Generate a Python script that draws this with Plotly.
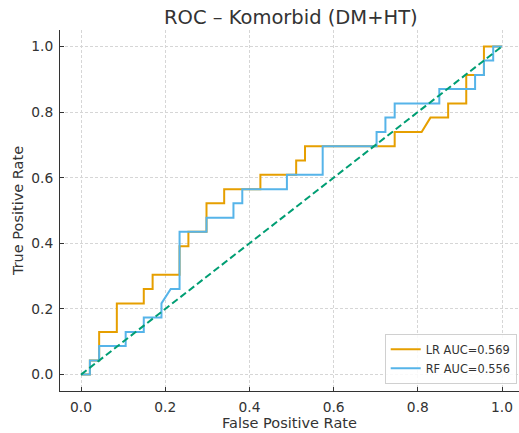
import plotly.graph_objects as go

# ROC curve corner points
lr_fpr = [0.0, 0.021, 0.021, 0.043, 0.043, 0.085, 0.085, 0.149, 0.149, 0.170, 0.170,
          0.234, 0.234, 0.255, 0.255, 0.298, 0.298, 0.340, 0.340, 0.426, 0.426, 0.511,
          0.511, 0.532, 0.532, 0.745, 0.745, 0.809, 0.830, 0.872, 0.872, 0.915, 0.915,
          0.957, 0.957, 1.0]
lr_tpr = [0.0, 0.0, 0.043, 0.043, 0.130, 0.130, 0.217, 0.217, 0.261, 0.261, 0.304,
          0.304, 0.391, 0.391, 0.435, 0.435, 0.522, 0.522, 0.565, 0.565, 0.609, 0.609,
          0.652, 0.652, 0.696, 0.696, 0.739, 0.739, 0.783, 0.783, 0.826, 0.826, 0.913,
          0.913, 1.0, 1.0]

rf_fpr = [0.0, 0.021, 0.021, 0.043, 0.043, 0.106, 0.106, 0.149, 0.149, 0.191, 0.191,
          0.213, 0.234, 0.234, 0.298, 0.298, 0.362, 0.362, 0.383, 0.383, 0.489, 0.489,
          0.574, 0.574, 0.702, 0.702, 0.723, 0.723, 0.745, 0.745, 0.851, 0.851, 0.936,
          0.936, 0.957, 0.957, 0.979, 0.979, 1.0]
rf_tpr = [0.0, 0.0, 0.043, 0.043, 0.087, 0.087, 0.130, 0.130, 0.174, 0.174, 0.217,
          0.261, 0.261, 0.435, 0.435, 0.478, 0.478, 0.522, 0.522, 0.565, 0.565, 0.609,
          0.609, 0.696, 0.696, 0.739, 0.739, 0.783, 0.783, 0.826, 0.826, 0.870, 0.870,
          0.913, 0.913, 0.957, 0.957, 1.0, 1.0]

chance_x = [0.0, 1.0]
chance_y = [0.0, 1.0]

lr_label = "LR AUC=0.569"
rf_label = "RF AUC=0.556"
title_text = "ROC – Komorbid (DM+HT)"
tick_vals = [0.0, 0.2, 0.4, 0.6, 0.8, 1.0]
tick_text = ["0.0", "0.2", "0.4", "0.6", "0.8", "1.0"]

FONT = "DejaVu Sans"
TXT = "#333333"

fig = go.Figure()
fig.add_trace(go.Scatter(x=lr_fpr, y=lr_tpr, mode="lines", name=lr_label,
                         line=dict(color="#E69F00", width=2)))
fig.add_trace(go.Scatter(x=rf_fpr, y=rf_tpr, mode="lines", name=rf_label,
                         line=dict(color="#56B4E9", width=2)))
fig.add_trace(go.Scatter(x=chance_x, y=chance_y, mode="lines", showlegend=False,
                         line=dict(color="#009E73", width=2, dash="7px,3.5px")))

axis_common = dict(
    tickvals=tick_vals, ticktext=tick_text,
    showgrid=True, gridcolor="#d6d6d6", gridwidth=1, griddash="3px,2px",
    zeroline=False, showline=True, linecolor="#333333", linewidth=1, mirror=False,
    ticks="inside", ticklen=4, tickwidth=1, tickcolor="#333333",
    tickfont=dict(family=FONT, size=13.8, color=TXT),
    automargin=False,
)

fig.update_layout(
    width=519, height=433,
    margin=dict(l=60, r=0, t=30, b=42),
    paper_bgcolor="white", plot_bgcolor="white",
    font=dict(family=FONT, color=TXT),
    title=dict(text=title_text, x=0.503, xref="paper", xanchor="center",
               y=1 - 16.7 / 433, yref="container", yanchor="middle",
               font=dict(family=FONT, size=19.5, color=TXT)),
    xaxis=dict(range=[-0.05, 1.0403],
               title=dict(text="False Positive Rate", standoff=4,
                          font=dict(family=FONT, size=14.5, color=TXT)),
               ticklabelstandoff=3, **axis_common),
    yaxis=dict(range=[-0.05, 1.05],
               title=dict(text="True Positive Rate", standoff=4,
                          font=dict(family=FONT, size=14.5, color=TXT)),
               ticklabelstandoff=3, **axis_common),
    legend=dict(x=0.995, y=0.02, xanchor="right", yanchor="bottom",
                bgcolor="rgba(255,255,255,0.85)", bordercolor="#d0d0d0", borderwidth=1,
                font=dict(family=FONT, size=11.4, color=TXT),
                itemwidth=30),
    showlegend=True,
)

fig.write_html("out.html",
               config={"displayModeBar": False},
               post_script="document.body.style.margin='0';document.body.style.padding='0';"
                           "document.documentElement.style.overflow='hidden';")
